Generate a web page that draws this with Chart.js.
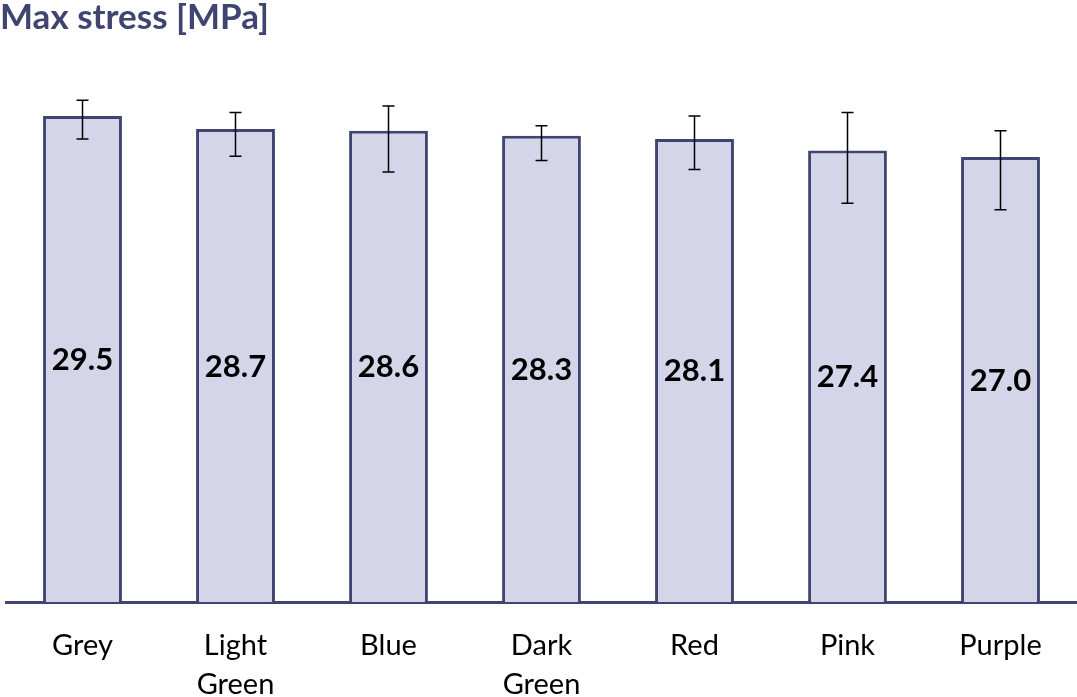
<!DOCTYPE html>
<html>
<head>
<meta charset="utf-8">
<script src="https://cdn.jsdelivr.net/npm/chart.js@4.4.1/dist/chart.umd.min.js"></script>
<style>
  html, body { margin: 0; padding: 0; background: #fff; }
  #wrap { width: 1077px; height: 697px; }
</style>
</head>
<body>
<div id="wrap"><canvas id="stressChart" width="1077" height="697"></canvas></div>
<script>
const chartTitle = "Max stress [MPa]";
const categories = ["Grey", "Light Green", "Blue", "Dark Green", "Red", "Pink", "Purple"];
const maxStress = [29.5, 28.7, 28.6, 28.3, 28.1, 27.4, 27.0];
// error bar ends (MPa)
const errLow = [28.1, 27.05, 26.1, 26.8, 26.25, 24.2, 23.8];
const errHigh = [30.45, 29.7, 30.1, 28.9, 29.5, 29.7, 28.6];

(function () {
  const navy = "#3f4570";
  const fill = "#d4d5e8";
  const fontFamily = "Lato, 'Open Sans', sans-serif";

  const extras = {
    id: "extras",
    afterDatasetsDraw(chart) {
      const { ctx } = chart;
      const y = chart.scales.y;
      const meta = chart.getDatasetMeta(0);
      ctx.save();

      // title, flush with the left edge
      ctx.fillStyle = navy;
      ctx.font = "bold 35px " + fontFamily;
      ctx.textAlign = "left";
      ctx.textBaseline = "middle";
      ctx.fillText(chartTitle, 0, 18);

      // value labels in the middle of each bar
      ctx.fillStyle = "#000";
      ctx.font = "bold 31px " + fontFamily;
      ctx.textAlign = "center";
      meta.data.forEach((bar, i) => {
        ctx.fillText(maxStress[i].toFixed(1), bar.x, (bar.y + bar.base) / 2 + 1);
      });

      ctx.strokeStyle = "#000";
      ctx.lineWidth = 1.5;
      meta.data.forEach((bar, i) => {
        const top = y.getPixelForValue(errHigh[i]);
        const bot = y.getPixelForValue(errLow[i]);
        ctx.beginPath();
        ctx.moveTo(bar.x, top);
        ctx.lineTo(bar.x, bot);
        ctx.moveTo(bar.x - 6, top);
        ctx.lineTo(bar.x + 6, top);
        ctx.moveTo(bar.x - 6, bot);
        ctx.lineTo(bar.x + 6, bot);
        ctx.stroke();
      });
      ctx.restore();
    }
  };

  new Chart(document.getElementById("stressChart"), {
    type: "bar",
    data: {
      labels: categories.map(c => c.split(" ")),
      datasets: [{
        label: chartTitle,
        data: maxStress,
        backgroundColor: fill,
        borderColor: navy,
        borderWidth: 3,
        barPercentage: 0.515,
        categoryPercentage: 1
      }]
    },
    options: {
      responsive: false,
      animation: false,
      layout: { padding: { left: 6, right: 0, top: 50, bottom: 0 } },
      plugins: {
        legend: { display: false },
        tooltip: { enabled: false },
        title: { display: false }
      },
      scales: {
        x: {
          grid: { display: false, drawTicks: false },
          border: { display: true, color: navy, width: 3 },
          ticks: {
            color: "#000",
            padding: 24.5,
            maxRotation: 0,
            font: { family: fontFamily, size: 29, lineHeight: 1.345 }
          },
          afterFit(scale) { scale.height = 95; }
        },
        y: {
          display: false,
          min: 0,
          max: 33.5
        }
      }
    },
    plugins: [extras]
  });
})();
</script>
</body>
</html>
